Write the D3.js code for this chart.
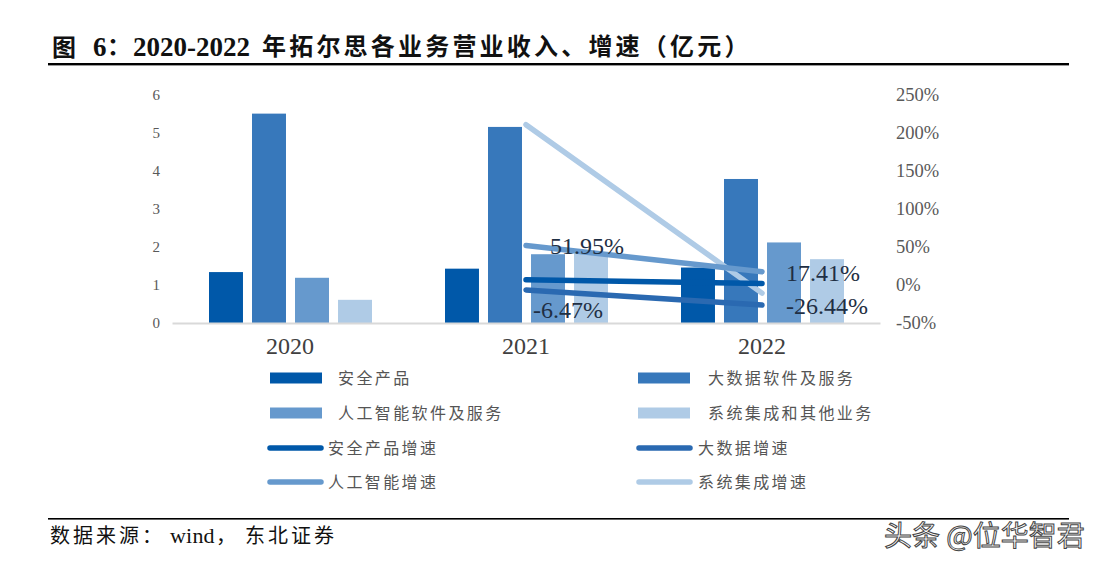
<!DOCTYPE html>
<html>
<head>
<meta charset="utf-8">
<script src="https://cdnjs.cloudflare.com/ajax/libs/d3/7.8.5/d3.min.js"></script>
<style>
  html, body { margin: 0; padding: 0; background: #fff; }
  svg { display: block; }
  .cjk { font-family: "Noto Sans CJK SC", sans-serif; }
  .num { font-family: "Liberation Serif", serif; }
</style>
</head>
<body>
<svg id="chart" width="1104" height="567"></svg>
<script>
const years = ["2020", "2021", "2022"];
const barSeries = ["安全产品", "大数据软件及服务", "人工智能软件及服务", "系统集成和其他业务"];
const lineSeries = ["安全产品增速", "大数据增速", "人工智能增速", "系统集成增速"];

const safety = [1.34, 1.43, 1.46];
const bigData = [5.51, 5.16, 3.79];
const ai = [1.19, 1.81, 2.12];
const integration = [0.61, 1.82, 1.68];

const safetyGrowth = [null, 6.9, 2.1];
const bigDataGrowth = [null, -6.47, -26.44];
const aiGrowth = [null, 51.95, 17.41];
const integrationGrowth = [null, 211, -10.7];

const leftTicks = [0, 1, 2, 3, 4, 5, 6];
const rightTicks = [-50, 0, 50, 100, 150, 200, 250];

const barColors = ["#0058a9", "#3778bb", "#6699cd", "#afcbe6"];
const lineColors = ["#0058a9", "#2a69b1", "#6699cd", "#afcbe6"];

const svg = d3.select("#chart");

// plot area
const x = d3.scaleBand().domain(years).range([172, 880]);
const xBar = d3.scaleBand().domain(barSeries).range([37, 200]).paddingInner(0.21);
const y = d3.scaleLinear().domain([0, 6]).range([323, 95]);
const yRight = d3.scaleLinear().domain([-50, 250]).range([323, 95]);

// header and footer
svg.append("rect").attr("x", 48).attr("y", 63).attr("width", 1021).attr("height", 2.4).attr("fill", "#000");
svg.append("rect").attr("x", 48).attr("y", 518).attr("width", 1021).attr("height", 1.6).attr("fill", "#000");

const addText = (cls, px, py, size, txt, weight, spacing) => svg.append("text")
  .attr("class", cls).attr("x", px).attr("y", py)
  .attr("font-size", size).attr("font-weight", weight || 400)
  .attr("letter-spacing", spacing || 0).attr("fill", "#111").text(txt);

addText("cjk", 52, 56, 24, "图", 700);
addText("num", 93, 56, 27, "6", 700);
addText("cjk", 107, 55, 24, "：", 700);
addText("num", 133, 56, 27, "2020-2022", 700, 0);
addText("cjk", 262, 55, 24, "年拓尔思各业务营业收入、增速（亿元）", 700, 3.2);

addText("cjk", 50, 543, 20, "数据来源：", 400, 3);
addText("num", 170, 543, 22, "wind", 400, 0.2);
addText("cjk", 216, 543, 20, "，", 400);
addText("cjk", 245, 543, 20, "东北证券", 400, 3);

// axes
const leftAxis = svg.append("g").attr("transform", "translate(160,0)")
  .call(d3.axisLeft(y).tickValues(leftTicks).tickSize(0).tickPadding(0).tickFormat(d3.format("d")));
leftAxis.select(".domain").remove();
leftAxis.selectAll("text").attr("class", "num").attr("font-size", 15).attr("fill", "#595959");

const rightAxis = svg.append("g").attr("transform", "translate(896,0)")
  .call(d3.axisRight(yRight).tickValues(rightTicks).tickSize(0).tickPadding(0).tickFormat(d => d + "%"));
rightAxis.select(".domain").remove();
rightAxis.selectAll("text").attr("class", "num").attr("font-size", 18.5).attr("fill", "#595959");

// bars
[safety, bigData, ai, integration].forEach((values, i) => {
  svg.append("g").selectAll("rect")
    .data(values)
    .enter()
    .append("rect")
    .attr("x", (d, j) => x(years[j]) + xBar(barSeries[i]))
    .attr("y", d => y(d))
    .attr("width", xBar.bandwidth())
    .attr("height", d => y(0) - y(d))
    .attr("fill", barColors[i]);
});

const xAxis = svg.append("g").attr("transform", "translate(0,323)")
  .call(d3.axisBottom(x).tickSize(0).tickPadding(14));
xAxis.select(".domain").attr("stroke", "#d9d9d9").attr("stroke-width", 2);
xAxis.selectAll("text").attr("class", "num").attr("font-size", 24).attr("fill", "#404040");

// growth lines
const line = d3.line()
  .defined(d => d.v !== null)
  .x(d => x(d.year) + x.bandwidth() / 2)
  .y(d => yRight(d.v));

[integrationGrowth, safetyGrowth, bigDataGrowth, aiGrowth].forEach((values, i) => {
  const color = [lineColors[3], lineColors[0], lineColors[1], lineColors[2]][i];
  svg.append("path")
    .datum(values.map((v, j) => ({ year: years[j], v: v })))
    .attr("d", line)
    .attr("fill", "none")
    .attr("stroke", color)
    .attr("stroke-width", 5.5)
    .attr("stroke-linecap", "round");
});

// data labels, offset from their points by hand like the original
const labelSpots = [
  { year: "2021", v: aiGrowth[1], dx: 61, dy: 8 },
  { year: "2022", v: aiGrowth[2], dx: 61, dy: 9 },
  { year: "2021", v: bigDataGrowth[1], dx: 42, dy: 28 },
  { year: "2022", v: bigDataGrowth[2], dx: 65, dy: 9 }
];
svg.append("g").selectAll("text")
  .data(labelSpots)
  .enter()
  .append("text")
  .attr("class", "num")
  .attr("x", d => x(d.year) + x.bandwidth() / 2 + d.dx)
  .attr("y", d => yRight(d.v) + d.dy)
  .attr("text-anchor", "middle")
  .attr("font-size", 24)
  .attr("fill", "#1f2f44")
  .text(d => d.v.toFixed(2) + "%");

// legend
const legendCols = [[270, 338], [638, 708]];
const legendLineCols = [[270, 328], [639, 698]];
const legendRows = [378, 413];
const legendLineRows = [448, 482];

barSeries.forEach((name, i) => {
  const col = legendCols[i % 2], row = legendRows[Math.floor(i / 2)];
  svg.append("rect").attr("x", col[0]).attr("y", row - 5.5).attr("width", 52).attr("height", 11).attr("fill", barColors[i]);
  addText("cjk", col[1], row + 6, 16, name, 400, 2.4).attr("fill", "#555");
});

lineSeries.forEach((name, i) => {
  const col = legendLineCols[i % 2], row = legendLineRows[Math.floor(i / 2)];
  svg.append("line").attr("x1", col[0]).attr("x2", col[0] + 51).attr("y1", row).attr("y2", row)
    .attr("stroke", lineColors[i]).attr("stroke-width", 5.5).attr("stroke-linecap", "round");
  addText("cjk", col[1], row + 6, 16, name, 400, 2.4).attr("fill", "#555");
});

// watermark
addText("cjk", 884, 546, 28, "头条 @位华智君", 400, 0)
  .attr("fill", "#fff").attr("stroke", "#444").attr("stroke-width", 1);
</script>
</body>
</html>
